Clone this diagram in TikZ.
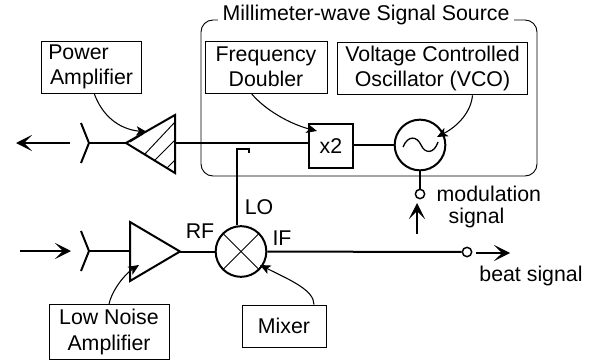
\documentclass[tikz,border=0pt]{standalone}
\usepackage{fontspec}
\setmainfont{Liberation Sans}
\usetikzlibrary{arrows.meta}

\begin{document}
\begin{tikzpicture}[x=0.75pt, y=-0.75pt, every node/.style={font=\fontsize{16}{19}\selectfont}]
  \tikzset{>={Stealth[length=12pt,width=12pt,inset=6pt]}}
  \tikzset{wire/.style={line width=1.5pt}}
  \tikzset{thinline/.style={line width=0.7pt}}
  \tikzset{labelbox/.style={draw, line width=0.7pt, align=center, inner sep=0pt}}
  \tikzset{pointer/.style={line width=0.8pt, -{Stealth[length=8pt,width=7pt,inset=2pt]}}}
  \tikzset{port/.style={draw, circle, line width=1.1pt, fill=white, minimum size=7pt, inner sep=0pt}}
  \useasboundingbox (0,0) rectangle (596,360);
  %
  \node (title) at (366,15) {Millimeter-wave Signal Source};
  \draw [thinline, rounded corners=9pt] (title.west |- 0,20) -- (201,20) -- (201,176) -- (537,176) -- (537,20) -- (title.east |- 0,20);
  %
  \node [labelbox, minimum width=75.5pt, minimum height=39pt] (pabox) at (91.5,67) {\hbox{Power\kern 19.5pt}\\Amplifier};
  \node [labelbox, minimum width=91.5pt, minimum height=39pt] (fdbox) at (266,67) {Frequency\\Doubler};
  \node [labelbox, minimum width=143pt, minimum height=39.5pt] (vcobox) at (432.5,68.5) {Voltage Controlled\\Oscillator (VCO)};
  \node [labelbox, minimum width=90pt, minimum height=41pt] (lnabox) at (109,332) {Low Noise\\Amplifier};
  \node [labelbox, minimum width=63pt, minimum height=31.5pt] (mixbox) at (284,326) {Mixer};
  %
  \node [draw, line width=2pt, minimum size=33pt, inner sep=0pt] (dbl) at (331,146) {x2};
  \node [draw, circle, line width=1.5pt, minimum size=38pt, inner sep=0pt] (osc) at (420,145) {};
  \node [draw, circle, line width=1.5pt, minimum size=38pt, inner sep=0pt] (mix) at (241,251.5) {};
  \draw [thinline] (mix.45) -- (mix.225);
  \draw [thinline] (mix.135) -- (mix.315);
  \draw [line width=1pt] (403,147) .. controls (408,135) and (417,136) .. (421,145) .. controls (425,154) and (434,154) .. (438,142);
  %
  \node [port] (modport) at (420,194) {};
  \node [port] (beatport) at (467,252) {};
  %
  \node (rf) at (200,231) {RF};
  \node (lo) at (259,207) {LO};
  \node (if) at (282,238) {IF};
  \node [anchor=west, align=left] (modlabel) at (432,207) {modulation\\[-3pt]\hspace*{9pt}signal};
  \node (beatlabel) at (531,276) {beat signal};
  %
  % amplifiers
  \coordinate (pain) at (126,143);
  \coordinate (paout) at (175,143);
  \coordinate (lnain) at (130,251);
  \coordinate (lnaout) at (180,251.5);
  \draw [wire, line join=miter] (pain) -- (175,115) -- (175,173) -- cycle;
  \draw [wire, line join=miter] (130,222) -- (lnaout) -- (130,281) -- cycle;
  \foreach \a/\b/\c/\d in {130/142/143/134, 144/155/175/122, 155/160/175/140, 167/168/175/160} {
    \draw [thinline] (\a,\b) -- (\c,\d);
  }
  %
  % antennas
  \foreach \n/\y in {tx/143, rx/251} {
    \pgfmathtruncatemacro{\yU}{\y-20}
    \pgfmathtruncatemacro{\yD}{\y+20}
    \coordinate (\n) at (89,\y);
    \draw [wire] (81,\yU) -- (\n) -- (81,\yD);
  }
  \draw [wire] (tx) -- (pain);
  \draw [wire] (rx) -- (lnain);
  %
  \draw [wire] (paout) -- (paout -| dbl.west);
  \draw [wire] (dbl.east |- osc) -- (osc);
  \draw [wire] (lnaout) -- (mix);
  \draw [wire] (mix) -- (beatport);
  \draw [line width=1.1pt] (osc) -- (modport);
  %
  \coordinate (lotop) at (237,149);
  \coordinate (lohook) at (249,149);
  \coordinate (loend) at (249,153);
  \draw [wire] ([xshift=-3pt]mix.north) -- (lotop) -- (lohook) -- (loend);
  %
  % signal arrows
  \coordinate (txarrowa) at (70,143);
  \coordinate (txarrowb) at (16,143);
  \coordinate (rxarrowa) at (20,251);
  \coordinate (rxarrowb) at (71,251);
  \coordinate (modarrowa) at (417,234);
  \coordinate (modarrowb) at (417,203);
  \coordinate (beatarrowa) at (476,253);
  \coordinate (beatarrowb) at (510,253);
  \foreach \a/\b in {txarrowa/txarrowb, rxarrowa/rxarrowb, modarrowa/modarrowb, beatarrowa/beatarrowb} {
    \draw [->, line width=1.1pt] (\a) -- (\b);
  }
  %
  % label pointers
  \coordinate (patip) at (147,132);
  \coordinate (fdtip) at (317,131);
  \coordinate (vcotip) at (437,137);
  \coordinate (lnatip) at (139,265);
  \coordinate (mixtip) at (260,265);
  \draw [pointer] ([xshift=2pt]pabox.south) .. controls (102,115) and (118,129) .. (patip);
  \draw [pointer] ([xshift=-11pt]fdbox.south) .. controls (265,110) and (290,124) .. (fdtip);
  \draw [pointer] ([xshift=30pt]vcobox.south) .. controls (471,112) and (458,126) .. (vcotip);
  \draw [pointer] (lnabox.north) .. controls (112,290) and (125,274) .. (lnatip);
  \draw [pointer] ([xshift=22.5pt]mixbox.north) .. controls (314,290) and (290,280) .. (mixtip);
\end{tikzpicture}
\end{document}
